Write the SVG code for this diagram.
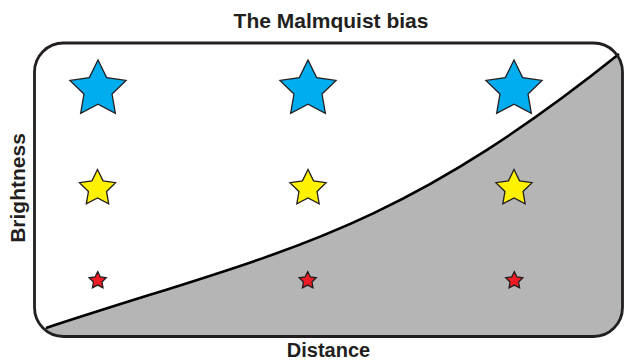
<svg xmlns="http://www.w3.org/2000/svg" xmlns:xlink="http://www.w3.org/1999/xlink" width="624" height="361" viewBox="0 0 624 361">
  <style>
    .lbl { font-family: "Liberation Sans", Arial, sans-serif; font-weight: bold; fill: #231f20; text-anchor: middle; }
    .star { stroke: #231f20; stroke-width: 1.3; stroke-linejoin: miter; }
    .blue { fill: #00aeef; }
    .yellow { fill: #fff200; }
    .red { fill: #ed1c24; }
  </style>
  <defs>
    <clipPath id="frameClip">
      <rect x="34.5" y="43" width="588" height="293.5" rx="29" ry="29"/>
    </clipPath>
    <path id="starL" d="M0,-29.5 L8.67,-11.93 L28.06,-9.12 L14.03,4.56 L17.34,23.87 L0,14.75 L-17.34,23.87 L-14.03,4.56 L-28.06,-9.12 L-8.67,-11.93 Z"/>
    <path id="starM" d="M0,-19 L5.58,-7.69 L18.07,-5.87 L9.04,2.94 L11.17,15.37 L0,9.5 L-11.17,15.37 L-9.04,2.94 L-18.07,-5.87 L-5.58,-7.69 Z"/>
    <path id="starS" d="M0,-9 L2.65,-3.64 L8.56,-2.78 L4.28,1.39 L5.29,7.28 L0,4.5 L-5.29,7.28 L-4.28,1.39 L-8.56,-2.78 L-2.65,-3.64 Z"/>
  </defs>

  <g id="frame">
    <rect x="34.5" y="43" width="588" height="293.5" rx="29" ry="29" fill="#ffffff"/>
    <path d="M20,333 L46,328 C276,252 389,238 619,54 L640,38 L640,361 L20,361 Z" fill="#b5b5b5" clip-path="url(#frameClip)"/>
  </g>

  <g id="connectors">
    <path id="limit-curve" d="M46,328 C276,252 389,238 619,54" fill="none" stroke="#000000" stroke-width="2.6"/>
  </g>

  <g id="frame-border">
    <rect x="34.5" y="43" width="588" height="293.5" rx="29" ry="29" fill="none" stroke="#231f20" stroke-width="2.8"/>
  </g>

  <g id="star-bright-1"><use xlink:href="#starL" class="star blue" x="98" y="89.5"/></g>
  <g id="star-bright-2"><use xlink:href="#starL" class="star blue" x="308" y="89.5"/></g>
  <g id="star-bright-3"><use xlink:href="#starL" class="star blue" x="514" y="89.5"/></g>

  <g id="star-medium-1"><use xlink:href="#starM" class="star yellow" x="97.5" y="188.5"/></g>
  <g id="star-medium-2"><use xlink:href="#starM" class="star yellow" x="308" y="188.5"/></g>
  <g id="star-medium-3"><use xlink:href="#starM" class="star yellow" x="514" y="188.5"/></g>

  <g id="star-faint-1"><use xlink:href="#starS" class="star red" x="97.7" y="280.6"/></g>
  <g id="star-faint-2"><use xlink:href="#starS" class="star red" x="307.7" y="280.6"/></g>
  <g id="star-faint-3"><use xlink:href="#starS" class="star red" x="514.3" y="280.6"/></g>

  <g id="title"><text class="lbl" x="331" y="27.5" font-size="21">The Malmquist bias</text></g>
  <g id="x-label"><text class="lbl" x="328.5" y="357" font-size="20">Distance</text></g>
  <g id="y-label"><text class="lbl" transform="translate(25,188) rotate(-90)" x="0" y="0" font-size="21">Brightness</text></g>
</svg>
